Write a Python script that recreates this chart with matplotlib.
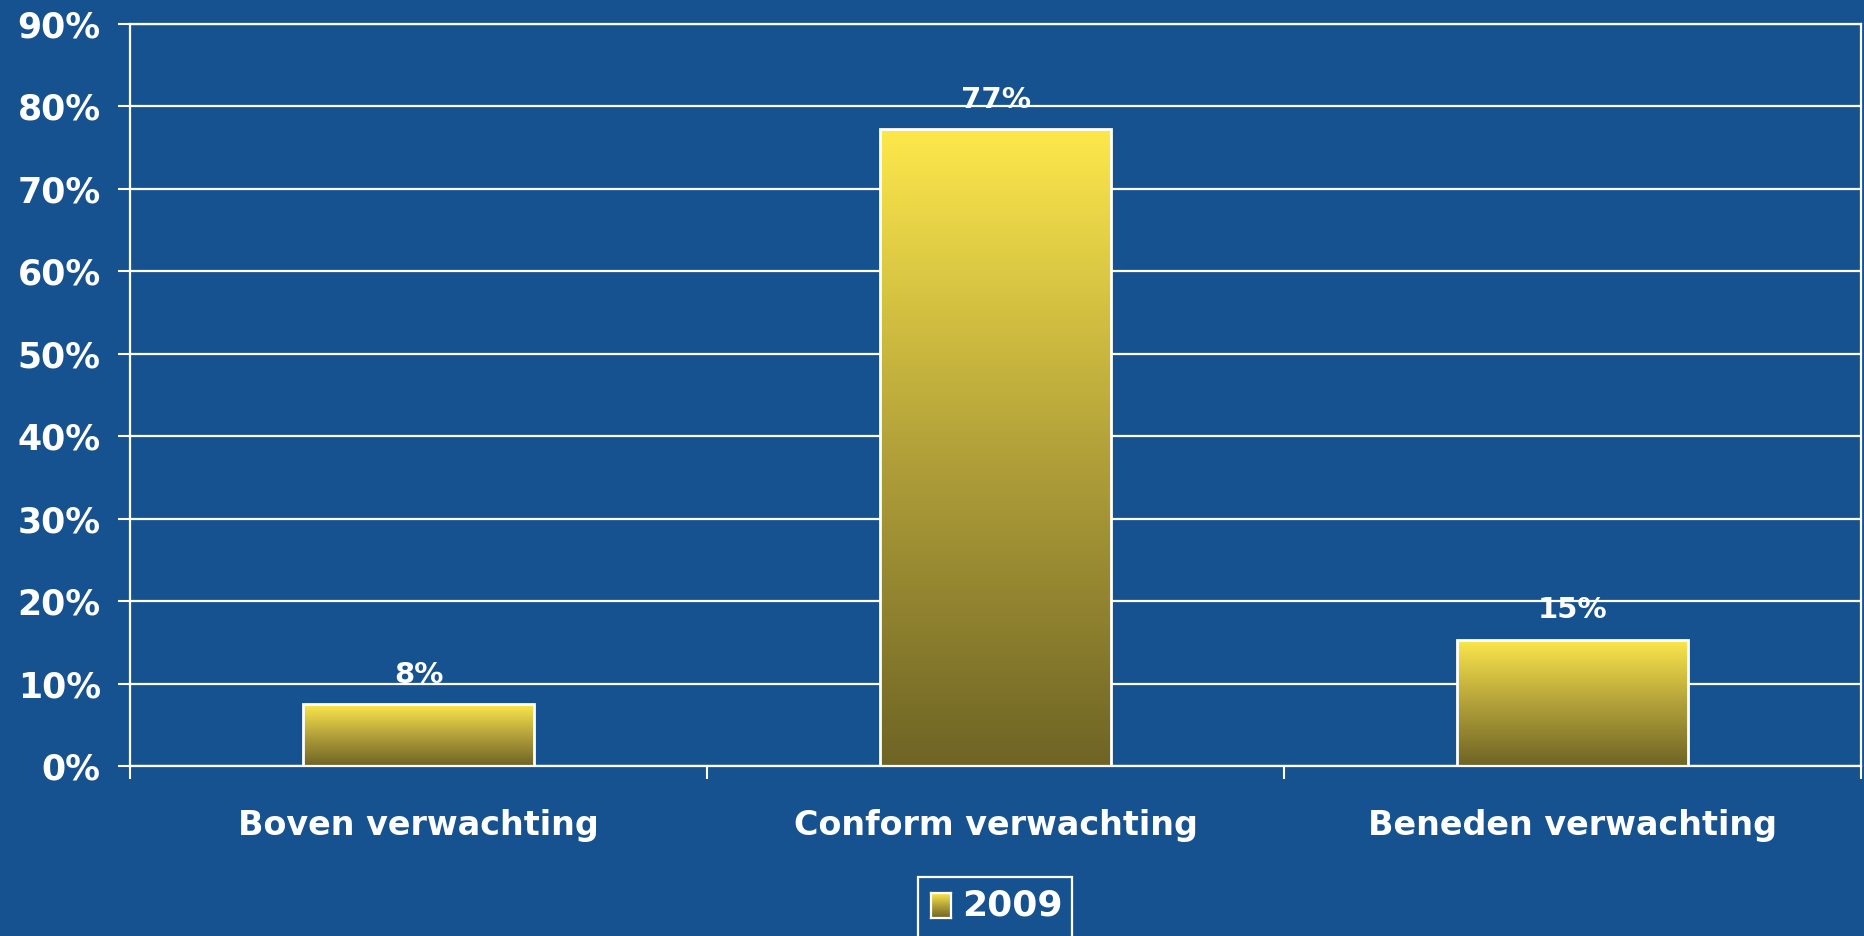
import numpy as np
import matplotlib
matplotlib.use('Agg')
import matplotlib.pyplot as plt
from matplotlib.colors import LinearSegmentedColormap
from matplotlib.patches import Rectangle

categories = ['Boven verwachting', 'Conform verwachting', 'Beneden verwachting']
values = [7.5, 77.2, 15.3]
labels = ['8%', '77%', '15%']
series_name = '2009'
yticks = [0, 10, 20, 30, 40, 50, 60, 70, 80, 90]

bg = '#175290'
grad = LinearSegmentedColormap.from_list('grad', ['#6e6425', '#b3a23a', '#fde84b'])

plt.rcParams['font.family'] = 'DejaVu Sans'
plt.rcParams['font.weight'] = 'bold'

fig = plt.figure(figsize=(18.65, 9.36), dpi=100, facecolor=bg)
ax = fig.add_axes([0.0697, 0.1816, 0.9282, 0.7928], facecolor=bg)

x = np.arange(len(categories))
bars = ax.bar(x, values, width=0.40, color='none', edgecolor='white', linewidth=2, zorder=3)
g = np.linspace(0, 1, 256).reshape(-1, 1)
for b in bars:
    x0, y0 = b.get_x(), b.get_y()
    w, h = b.get_width(), b.get_height()
    im = ax.imshow(g, cmap=grad, origin='lower', aspect='auto',
                   extent=[x0, x0 + w, y0, y0 + h], zorder=2)
    im.set_clip_path(b)

for xi, v, lab in zip(x, values, labels):
    ax.annotate(lab, (xi, v), xytext=(0, 15.5), textcoords='offset points',
                ha='center', va='baseline', color='white', fontsize=21, fontweight='bold', zorder=4)

ax.set_xlim(-0.5, 2.5)
ax.set_ylim(0, 90)
ax.set_yticks(yticks)
ax.set_yticklabels([f'{t}%' for t in yticks])
ax.yaxis.grid(True, color='white', linewidth=1.6, zorder=1)
ax.set_axisbelow(True)
ax.tick_params(axis='y', colors='white', labelsize=25, length=9, width=1.5, pad=12)

ax.set_xticks([-0.5, 0.5, 1.5, 2.5])
ax.set_xticklabels([])
ax.set_xticks(x, minor=True)
ax.set_xticklabels(categories, minor=True)
ax.tick_params(axis='x', which='major', colors='white', length=9, width=1.5)
ax.tick_params(axis='x', which='minor', colors='white', labelsize=24, length=0, pad=31)

for s in ax.spines.values():
    s.set_color('white')
    s.set_linewidth(1.6)

# legend box (runs off the bottom edge like the original)
fig.add_artist(Rectangle((918 / 1865, -0.02), 154 / 1865, (936 - 877) / 936 + 0.02,
                         transform=fig.transFigure, facecolor='none', edgecolor='white', linewidth=1.6))
lax = fig.add_axes([931 / 1865, (936 - 918) / 936, 20 / 1865, 25 / 936])
lax.imshow(g, cmap=grad, origin='lower', aspect='auto')
lax.set_xticks([])
lax.set_yticks([])
for s in lax.spines.values():
    s.set_color('white')
    s.set_linewidth(1.6)
fig.text(962 / 1865, (936 - 906) / 936, series_name, color='white', fontsize=26,
         fontweight='bold', ha='left', va='center')

fig.savefig('out.png', dpi=100, facecolor=bg)
